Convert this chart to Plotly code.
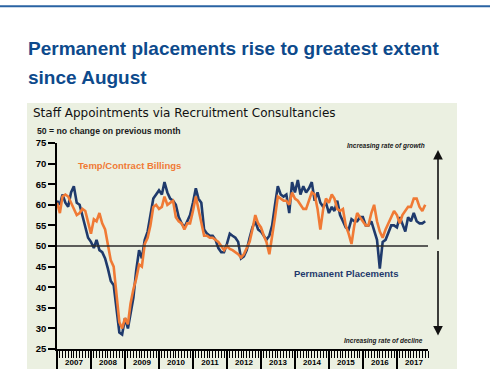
import pandas as pd
import plotly.graph_objects as go

# ---- data ----
months = pd.date_range("2007-01-01", "2017-11-01", freq="MS")

permanent_placements = [
    61, 60, 62.5, 60.5, 59.5, 63, 64.5, 60.5, 60, 57.5, 55, 52,          # 2007
    51, 49.5, 51.5, 49, 48.5, 47, 44.5, 41.5, 40.5, 34, 29, 28.5,        # 2008
    32.5, 30, 33.5, 37.5, 44, 49, 47, 51.5, 53.5, 57, 61.5, 62.5,        # 2009
    63.5, 62.5, 65.5, 63, 61.5, 61, 60, 57, 55.5, 54.5, 56, 57.5,        # 2010
    60.5, 64, 61.5, 60.5, 54, 53, 52.5, 52.5, 51.5, 49.5, 48.5, 48.5,    # 2011
    50.5, 53, 52.5, 52, 51, 47, 47.5, 49, 52, 54.5, 56, 54,              # 2012
    53.5, 52.5, 51.5, 52.5, 55, 60, 64.5, 62.5, 62, 62.5, 58, 65.5,      # 2013
    63, 66, 62.5, 64.5, 63, 64, 65.5, 61, 63, 60.5, 59.5, 60.5,          # 2014
    58, 59.5, 58.5, 61, 57.5, 56, 54.5, 54, 56.5, 56, 56, 57,            # 2015
    57, 55, 55, 56, 53.5, 51.5, 44.5, 51, 51.5, 53.5, 55, 55,            # 2016
    54.5, 57, 55.5, 53.5, 57, 56, 58, 56, 55.5, 55.5, 56,                # 2017
]

temp_billings = [
    60.5, 58, 62, 62.5, 62, 60.5, 59, 57.5, 58, 59, 58.5, 55.5,          # 2007
    53, 56.5, 56, 58, 55.5, 54, 50, 46.5, 45, 38, 31.5, 30,              # 2008
    32.5, 31, 36, 39.5, 42, 45.5, 45, 50.5, 52, 55, 59.5, 60,            # 2009
    59, 59.5, 62, 60, 60.5, 61, 57, 56, 55.5, 54, 55.5, 55.5,            # 2010
    58.5, 62, 59, 55.5, 52.5, 52.5, 52, 52, 51.5, 51, 50, 49,            # 2011
    50, 49.3, 49, 48.5, 48, 47.2, 48, 49.5, 51, 54, 57.5, 55.5,          # 2012
    54.5, 52.5, 51, 48, 52, 57, 62, 61.5, 61, 61, 60, 63,                # 2013
    61.5, 61, 60, 59, 59, 61, 63, 62.5, 59, 54, 59, 61.5,                # 2014
    60.5, 62.5, 61.5, 59, 58.5, 59, 55, 53, 50.5, 55, 58, 57,            # 2015
    56, 55, 55, 58, 60, 56, 53.5, 52, 54, 55.5, 57, 58.5,                # 2016
    57.5, 55.5, 57.5, 58.5, 59.5, 59.5, 61.5, 61.5, 59.5, 58.5, 60,      # 2017
]

y_ticks = [25, 30, 35, 40, 45, 50, 55, 60, 65, 70, 75]
no_change_level = 50

NAVY = "#1f3a6c"
ORANGE = "#f07a35"
PANEL = "#ebf0e1"
TITLE_BLUE = "#0d4a8c"
FONT = "Liberation Sans, Arial, sans-serif"

# layout geometry (pixels)
W, H = 490, 369
L, R, T, B = 57, 62, 143, 19.5
pw, ph = W - L - R, H - T - B


def px(x):
    return (x - L) / pw


def py(y):
    return (H - B - y) / ph


fig = go.Figure()
fig.add_trace(go.Scatter(x=months, y=permanent_placements, mode="lines",
                         line=dict(color=NAVY, width=2.6), name="Permanent Placements",
                         hoverinfo="skip"))
fig.add_trace(go.Scatter(x=months, y=temp_billings, mode="lines",
                         line=dict(color=ORANGE, width=2.6), name="Temp/Contract Billings",
                         hoverinfo="skip"))

shapes = [
    # green panel
    dict(type="rect", xref="paper", yref="paper", x0=px(27), x1=px(457), y0=py(103), y1=py(372),
         fillcolor=PANEL, line=dict(width=0), layer="below"),
    # top rule
    dict(type="line", xref="paper", yref="paper", x0=px(0), x1=px(490), y0=py(6), y1=py(6),
         line=dict(color="#2a63a3", width=2)),
    # 50 line
    dict(type="line", xref="paper", yref="y", x0=0, x1=1, y0=no_change_level, y1=no_change_level,
         line=dict(color="#2b2b2b", width=1.6)),
]

annotations = [
    dict(text="<b>Permanent placements rise to greatest extent</b>", xref="paper", yref="paper",
         x=px(26), y=py(48), xanchor="left", yanchor="middle", showarrow=False,
         font=dict(family=FONT, size=19, color=TITLE_BLUE)),
    dict(text="<b>since August</b>", xref="paper", yref="paper",
         x=px(26), y=py(77), xanchor="left", yanchor="middle", showarrow=False,
         font=dict(family=FONT, size=19, color=TITLE_BLUE)),
    dict(text="Staff Appointments via Recruitment Consultancies", xref="paper", yref="paper",
         x=px(31), y=py(112.5), xanchor="left", yanchor="middle", showarrow=False,
         font=dict(family="DejaVu Sans, sans-serif", size=12, color="#111111")),
    dict(text="<b>50 = no change on previous month</b>", xref="paper", yref="paper",
         x=px(35), y=py(130.5), xanchor="left", yanchor="middle", showarrow=False,
         font=dict(family=FONT, size=8.7, color="#1a1a1a")),
    dict(text="<b>Temp/Contract Billings</b>", xref="paper", yref="paper",
         x=px(76), y=py(166), xanchor="left", yanchor="middle", showarrow=False,
         font=dict(family=FONT, size=9.5, color=ORANGE)),
    dict(text="<b>Permanent Placements</b>", xref="paper", yref="paper",
         x=px(292), y=py(274), xanchor="left", yanchor="middle", showarrow=False,
         font=dict(family=FONT, size=9.5, color=NAVY)),
    dict(text="<b><i>Increasing rate of growth</i></b>", xref="paper", yref="paper",
         x=px(427), y=py(146), xanchor="right", yanchor="middle", showarrow=False,
         font=dict(family=FONT, size=6.5, color="#1a1a1a")),
    dict(text="<b><i>Increasing rate of decline</i></b>", xref="paper", yref="paper",
         x=px(425), y=py(341), xanchor="right", yanchor="middle", showarrow=False,
         font=dict(family=FONT, size=6.5, color="#1a1a1a")),
    # arrows
    dict(text="", xref="paper", yref="paper", x=px(438), y=py(150), ax=0, ay=91,
         showarrow=True, arrowhead=2, arrowsize=1.2, arrowwidth=1.6, arrowcolor="#111"),
    dict(text="", xref="paper", yref="paper", x=px(438), y=py(336), ax=0, ay=-86,
         showarrow=True, arrowhead=2, arrowsize=1.2, arrowwidth=1.6, arrowcolor="#111"),
]

fig.update_layout(
    width=W, height=H,
    margin=dict(l=L, r=R, t=T, b=B, pad=0, autoexpand=False),
    paper_bgcolor="white",
    plot_bgcolor="rgba(0,0,0,0)",
    showlegend=False,
    shapes=shapes,
    annotations=annotations,
    xaxis=dict(
        range=["2007-01-01", "2017-12-01"],
        automargin=False,
        showgrid=False, zeroline=False,
        showline=True, linecolor="black", linewidth=2,
        ticks="outside", ticklen=19, tickwidth=1.8, tickcolor="black",
        tick0="2007-01-01", dtick="M12",
        ticklabelmode="period", tickformat="%Y",
        ticklabelstandoff=-15,
        tickfont=dict(family=FONT, size=8, color="black", weight="bold"),
        minor=dict(ticks="outside", ticklen=7, tickwidth=1, tickcolor="black",
                   dtick="M1", showgrid=False),
    ),
    yaxis=dict(
        range=[25, 75],
        automargin=False,
        tickvals=y_ticks,
        showgrid=False, zeroline=False,
        showline=True, linecolor="black", linewidth=1.5,
        ticks="outside", ticklen=7, tickwidth=1.5, tickcolor="black",
        tickfont=dict(family=FONT, size=9.5, color="black", weight="bold"),
    ),
)

fig.write_html(
    "out.html",
    config={"displayModeBar": False},
    post_script="document.body.style.margin='0';document.body.style.overflow='hidden';",
)
